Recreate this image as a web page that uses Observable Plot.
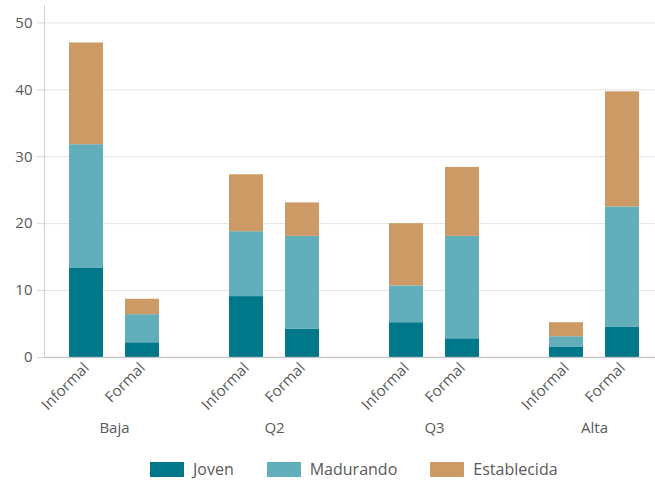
<!DOCTYPE html>
<html><head><meta charset="utf-8">
<script src="https://cdn.jsdelivr.net/npm/d3@7"></script>
<script src="https://cdn.jsdelivr.net/npm/@observablehq/plot@0.6"></script>
<style>
html,body{margin:0;padding:0;background:#fff;overflow:hidden}
body{width:655px;height:480px;font-family:"Open Sans",sans-serif}
#legend{display:flex;align-items:center;height:28px;padding-left:150px;font-size:16px;color:#595959}
#legend .item{display:flex;align-items:center;margin-right:33px}
#legend .sw{width:34px;height:15px;margin-right:9px}
</style></head><body>
<div id="chart"></div>
<div id="legend"></div>
<script>
const groups = ["Baja", "Q2", "Q3", "Alta"];
const sectors = ["Informal", "Formal"];
const series = ["Joven", "Madurando", "Establecida"];
const colors = ["#00788a", "#62aebb", "#cd9a65"];
// order: Baja-Informal, Baja-Formal, Q2-Informal, Q2-Formal, Q3-Informal, Q3-Formal, Alta-Informal, Alta-Formal
const joven = [13.3, 2.2, 9.1, 4.2, 5.2, 2.8, 1.5, 4.5];
const madurando = [18.5, 4.2, 9.7, 13.9, 5.5, 15.3, 1.6, 18.0];
const establecida = [15.2, 2.3, 8.5, 5.0, 9.3, 10.3, 2.1, 17.2];
const yTicks = [0, 10, 20, 30, 40, 50];

const seriesValues = [joven, madurando, establecida];
const table = [];
groups.forEach((g, gi) => sectors.forEach((s, si) => {
  const i = gi * 2 + si;
  series.forEach((k, ki) => table.push({group: g, sector: s, series: k, value: seriesValues[ki][i]}));
}));

const chart = Plot.plot({
  width: 655,
  height: 455,
  marginLeft: 44,
  marginRight: 0,
  marginTop: 5,
  marginBottom: 98,
  style: {fontFamily: "'Open Sans', sans-serif", fontSize: "15px", color: "#595959", background: "#fff"},
  fx: {domain: groups, range: [44, 684], paddingInner: 0, paddingOuter: 0, label: null, axis: null},
  x: {domain: sectors, paddingInner: 0.4, paddingOuter: 0.615, align: 0.36, label: null, axis: null},
  y: {domain: [0, 52.6], label: null, axis: null},
  color: {domain: series, range: colors},
  marks: [
    Plot.gridY({ticks: yTicks, stroke: "#e3e3e3", strokeOpacity: 1}),
    Plot.barY(table, {fx: "group", x: "sector", y: "value", fill: "series"}),
    Plot.ruleY([0], {stroke: "#bdbdbd", strokeOpacity: 0.8, strokeWidth: 1.5}),
    Plot.frame({anchor: "left", stroke: "#cfcfcf", facetAnchor: "left"}),
    Plot.axisY({ticks: yTicks, tickSize: 7, tickPadding: 5, stroke: "#d5d5d5", fill: "#595959", label: null}),
    Plot.axisX({tickSize: 0, tickRotate: -45, tickPadding: 8, fill: "#595959", label: null}),
    Plot.axisFx({anchor: "bottom", tickSize: 0, tickPadding: 65, dx: -10, fill: "#595959", label: null})
  ]
});
document.getElementById("chart").appendChild(chart);

const legend = document.getElementById("legend");
series.forEach((s, i) => {
  const item = document.createElement("div");
  item.className = "item";
  const sw = document.createElement("span");
  sw.className = "sw";
  sw.style.background = colors[i];
  const t = document.createElement("span");
  t.textContent = s;
  item.appendChild(sw);
  item.appendChild(t);
  legend.appendChild(item);
});
</script>
</body></html>
